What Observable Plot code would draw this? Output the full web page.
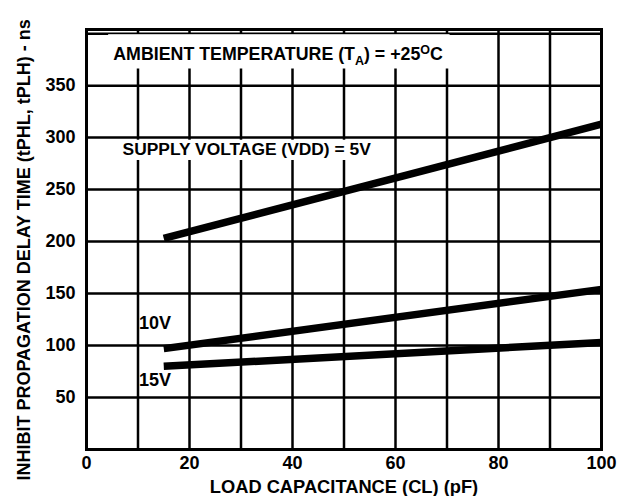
<!DOCTYPE html>
<html>
<head>
<meta charset="utf-8">
<script src="https://cdn.jsdelivr.net/npm/d3@7"></script>
<script src="https://cdn.jsdelivr.net/npm/@observablehq/plot@0.6"></script>
<style>
  html, body { margin: 0; padding: 0; background: #fff; }
</style>
</head>
<body>
<div id="chart"></div>
<script>
// Load capacitance (pF) at the two ends of each straight curve
const capacitance = [15, 100];
// Propagation delay (ns) per supply voltage
const delay5V = [203, 313];
const delay10V = [97, 154];
const delay15V = [80, 103];
const seriesNames = ["5V", "10V", "15V"];
const seriesValues = [delay5V, delay10V, delay15V];

const xTicks = [0, 20, 40, 60, 80, 100];
const yTicks = [50, 100, 150, 200, 250, 300, 350];
const xGrid = d3.range(0, 101, 10);
const yGrid = d3.range(0, 401, 50);

const xTitle = "LOAD CAPACITANCE (CL) (pF)";
const yTitle = "INHIBIT PROPAGATION DELAY TIME (tPHL, tPLH) - ns";
const ambientText = "AMBIENT TEMPERATURE (TA) = +25OC";
const supplyText = "SUPPLY VOLTAGE (VDD) = 5V";

const rows = seriesNames.flatMap((name, i) =>
  capacitance.map((c, j) => ({series: name, cap: c, delay: seriesValues[i][j]}))
);

const font = "'Liberation Sans', Arial, Helvetica, sans-serif";

const chart = Plot.plot({
  width: 628,
  height: 496,
  marginLeft: 86,
  marginRight: 27,
  marginTop: 29,
  marginBottom: 47,
  style: {fontFamily: font, fontSize: "17px", fontWeight: "bold", color: "black", background: "white"},
  x: {domain: [0, 100]},
  y: {domain: [0, 404]},
  marks: [
    Plot.gridX(xGrid, {stroke: "black", strokeOpacity: 1, strokeWidth: 2.5}),
    Plot.gridY(yGrid, {stroke: "black", strokeOpacity: 1, strokeWidth: 2.5}),
    // white backing boxes behind the annotations
    Plot.rect([{x1: 4.3, x2: 70.6, y1: 366, y2: 399}], {x1: "x1", x2: "x2", y1: "y1", y2: "y2", fill: "white"}),
    Plot.rect([{x1: 4.7, x2: 57.5, y1: 278, y2: 297.5}], {x1: "x1", x2: "x2", y1: "y1", y2: "y2", fill: "white"}),
    Plot.frame({stroke: "black", strokeWidth: 3}),
    Plot.axisX({ticks: xTicks, tickSize: 0, tickPadding: 7, label: null, fontSize: 18, fontWeight: "bold", tickFormat: d => String(d)}),
    Plot.axisY({ticks: yTicks, tickSize: 0, tickPadding: 11, label: null, fontSize: 18, fontWeight: "bold", tickFormat: d => String(d)}),
    Plot.line(rows, {x: "cap", y: "delay", z: "series", stroke: "black", strokeWidth: 7.5, strokeLinecap: "butt"}),
    Plot.text([ambientText], {x: 5.2, y: 380, text: d => d, textAnchor: "start", fontSize: 17.8, fontWeight: "bold"}),
    Plot.text([supplyText], {x: 7.0, y: 288.6, text: d => d, textAnchor: "start", fontSize: 17.4, fontWeight: "bold"}),
    Plot.text(["10V"], {x: 10.2, y: 121, text: d => d, textAnchor: "start", fontSize: 18, fontWeight: "bold"}),
    Plot.text(["15V"], {x: 10.2, y: 67, text: d => d, textAnchor: "start", fontSize: 18, fontWeight: "bold"}),
    Plot.text([xTitle], {x: () => 50, y: () => -36, text: d => d, fontSize: 18.3, fontWeight: "bold"}),
    Plot.text([yTitle], {x: () => -12.1, y: () => 192, rotate: -90, text: d => d, fontSize: 18, fontWeight: "bold"})
  ]
});

// Subscript / superscript in the ambient temperature note
d3.select(chart).selectAll("text").filter(function() { return this.textContent === ambientText; })
  .each(function() {
    const t = d3.select(this);
    t.text(null);
    t.append("tspan").text("AMBIENT TEMPERATURE (T");
    t.append("tspan").attr("font-size", 12.5).attr("dy", 5).text("A");
    t.append("tspan").attr("dy", -5).text(") = +25");
    t.append("tspan").attr("font-size", 12.5).attr("dy", -6).text("O");
    t.append("tspan").attr("dy", 6).text("C");
  });

document.getElementById("chart").appendChild(chart);
</script>
</body>
</html>
